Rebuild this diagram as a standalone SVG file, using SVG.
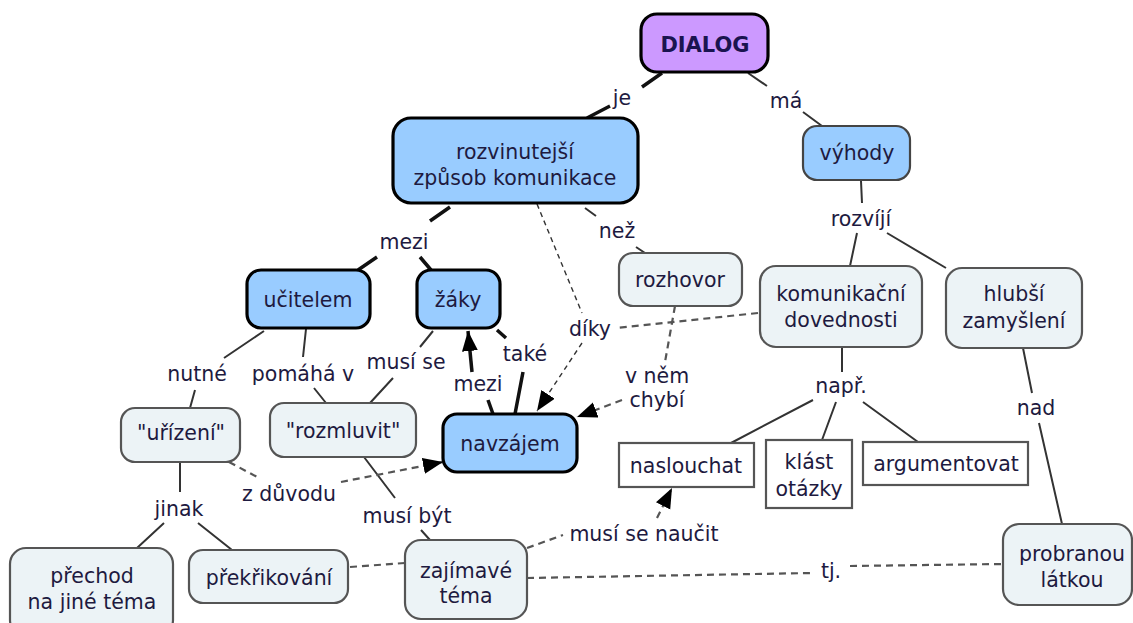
<svg xmlns="http://www.w3.org/2000/svg" width="1133" height="623" viewBox="0 0 1133 623">
<style>
text{font-family:"DejaVu Sans","Liberation Sans",sans-serif;font-size:20.5px;fill:#1e1a40;text-anchor:middle}
.title{font-weight:bold;font-size:21px;fill:#1a1450}
.blue{fill:#99ccff;stroke:#000;stroke-width:3.2}
.blue2{fill:#99ccff;stroke:#444;stroke-width:2.2}
.purple{fill:#cc99ff;stroke:#000;stroke-width:3.2}
.light{fill:#ecf3f6;stroke:#555;stroke-width:2.2}
.plain{fill:#fff;stroke:#555;stroke-width:2.2}
.thick{stroke:#111;stroke-width:3.5;fill:none}
.thin{stroke:#333;stroke-width:2;fill:none}
.dash{stroke:#555;stroke-width:2.2;stroke-dasharray:7 5;fill:none}
.dash2{stroke:#333;stroke-width:1.4;stroke-dasharray:5 4;fill:none}
</style>
<defs>
<marker id="arr" markerUnits="userSpaceOnUse" markerWidth="22" markerHeight="18" refX="20" refY="8" orient="auto">
<path d="M0,0 L20,8 L0,16 z" fill="#000"/>
</marker>
</defs>
<rect width="1133" height="623" fill="#fff"/>
<g id="connectors">
<path class="thick" d="M662,73 L642,87 M610,106 L587,118"/>
<path class="thick" d="M450,207 L430,221 M377,257 L358,270 M420,257 L431,270"/>
<path class="thick" d="M497,330 L506,338 M523,372 L515,414"/>
<path class="thick" d="M493,414 L488,400"/>
<path class="thick" d="M472,372 L468,331" marker-end="url(#arr)"/>
<path class="thin" d="M748,73 L767,86 M803,112 L822,126"/>
<path class="thin" d="M585,208 L596,216 M636,247 L645,253"/>
<path class="thin" d="M861,181 L862,203 M857,233 L850,266 M887,233 L946,268"/>
<path class="thin" d="M842,347 L842,372 M813,400 L731,443 M836,402 L822,440 M863,402 L918,442"/>
<path class="thin" d="M1023,348 L1032,393 M1039,423 L1062,524"/>
<path class="thin" d="M264,331 L224,358 M195,390 L190,408"/>
<path class="thin" d="M306,329 L303,357 M314,388 L326,403"/>
<path class="thin" d="M433,331 L420,347 M393,378 L370,403"/>
<path class="thin" d="M180,462 L180,492 M164,523 L137,548 M198,523 L232,550"/>
<path class="thin" d="M364,457 L395,498 M421,530 L430,540"/>
<path class="dash2" d="M537,204 L582,313"/>
<path class="dash2" d="M582,343 L537,411" marker-end="url(#arr)"/>
<path class="dash" d="M758,313 L616,328"/>
<path class="dash" d="M675,306 L665,362"/>
<path class="dash" d="M622,400 L577,417" marker-end="url(#arr)"/>
<path class="dash" d="M229,462 L259,478"/>
<path class="dash" d="M341,482 L443,462" marker-end="url(#arr)"/>
<path class="dash" d="M350,567 L405,563 M527,548 L563,535"/>
<path class="dash" d="M657,518 L672,488" marker-end="url(#arr)"/>
<path class="dash" d="M527,578 L812,573 M850,566 L1003,564"/>
</g>
<g id="labels">
<text x="622" y="105">je</text>
<text x="786" y="108">má</text>
<text x="404" y="249">mezi</text>
<text x="617" y="238">než</text>
<text x="861" y="226">rozvíjí</text>
<text x="197" y="381">nutné</text>
<text x="303" y="381">pomáhá v</text>
<text x="406" y="369">musí se</text>
<text x="525" y="361">také</text>
<text x="478" y="391">mezi</text>
<text x="590" y="336">díky</text>
<text x="657" y="383">v něm</text>
<text x="657" y="407">chybí</text>
<text x="841" y="393">např.</text>
<text x="1036" y="415">nad</text>
<text x="179" y="516">jinak</text>
<text x="289" y="501">z důvodu</text>
<text x="407" y="523">musí být</text>
<text x="644" y="541">musí se naučit</text>
<text x="831" y="578">tj.</text>
</g>
<g id="n-dialog"><rect class="purple" x="641" y="14" width="127" height="58" rx="16"/><text class="title" x="705" y="52">DIALOG</text></g>
<g id="n-rozvinutejsi"><rect class="blue" x="393" y="118" width="245" height="85" rx="18"/><text x="515" y="159">rozvinutejší</text><text x="515" y="185">způsob komunikace</text></g>
<g id="n-vyhody"><rect class="blue2" x="803" y="126" width="107" height="54" rx="14"/><text x="857" y="160">výhody</text></g>
<g id="n-ucitelem"><rect class="blue" x="247" y="270" width="123" height="58" rx="14"/><text x="308" y="307">učitelem</text></g>
<g id="n-zaky"><rect class="blue" x="417" y="270" width="83" height="58" rx="14"/><text x="458" y="307">žáky</text></g>
<g id="n-rozhovor"><rect class="light" x="619" y="253" width="123" height="53" rx="14"/><text x="680" y="287">rozhovor</text></g>
<g id="n-komunikacni"><rect class="light" x="760" y="266" width="162" height="81" rx="16"/><text x="841" y="301">komunikační</text><text x="841" y="327">dovednosti</text></g>
<g id="n-hlubsi"><rect class="light" x="946" y="268" width="136" height="80" rx="16"/><text x="1014" y="301">hlubší</text><text x="1014" y="328">zamyšlení</text></g>
<g id="n-urizeni"><rect class="light" x="121" y="408" width="119" height="54" rx="14"/><text x="181" y="440">"uřízení"</text></g>
<g id="n-rozmluvit"><rect class="light" x="270" y="403" width="146" height="54" rx="14"/><text x="343" y="438">"rozmluvit"</text></g>
<g id="n-navzajem"><rect class="blue" x="443" y="414" width="134" height="58" rx="14"/><text x="510" y="451">navzájem</text></g>
<g id="n-naslouchat"><rect class="plain" x="619" y="443" width="135" height="44"/><text x="686" y="473">naslouchat</text></g>
<g id="n-klast"><rect class="plain" x="766" y="440" width="86" height="68"/><text x="809" y="469">klást</text><text x="809" y="496">otázky</text></g>
<g id="n-argumentovat"><rect class="plain" x="863" y="442" width="165" height="43"/><text x="946" y="471">argumentovat</text></g>
<g id="n-prechod"><rect class="light" x="10" y="548" width="163" height="88" rx="16"/><text x="92" y="583">přechod</text><text x="92" y="609">na jiné téma</text></g>
<g id="n-prekrikovani"><rect class="light" x="189" y="550" width="159" height="53" rx="14"/><text x="269" y="585">překřikování</text></g>
<g id="n-zajimave"><rect class="light" x="405" y="540" width="122" height="79" rx="16"/><text x="466" y="578">zajímavé</text><text x="466" y="603">téma</text></g>
<g id="n-probranou"><rect class="light" x="1003" y="524" width="129" height="81" rx="16"/><text x="1072" y="561">probranou</text><text x="1072" y="587">látkou</text></g>
</svg>
